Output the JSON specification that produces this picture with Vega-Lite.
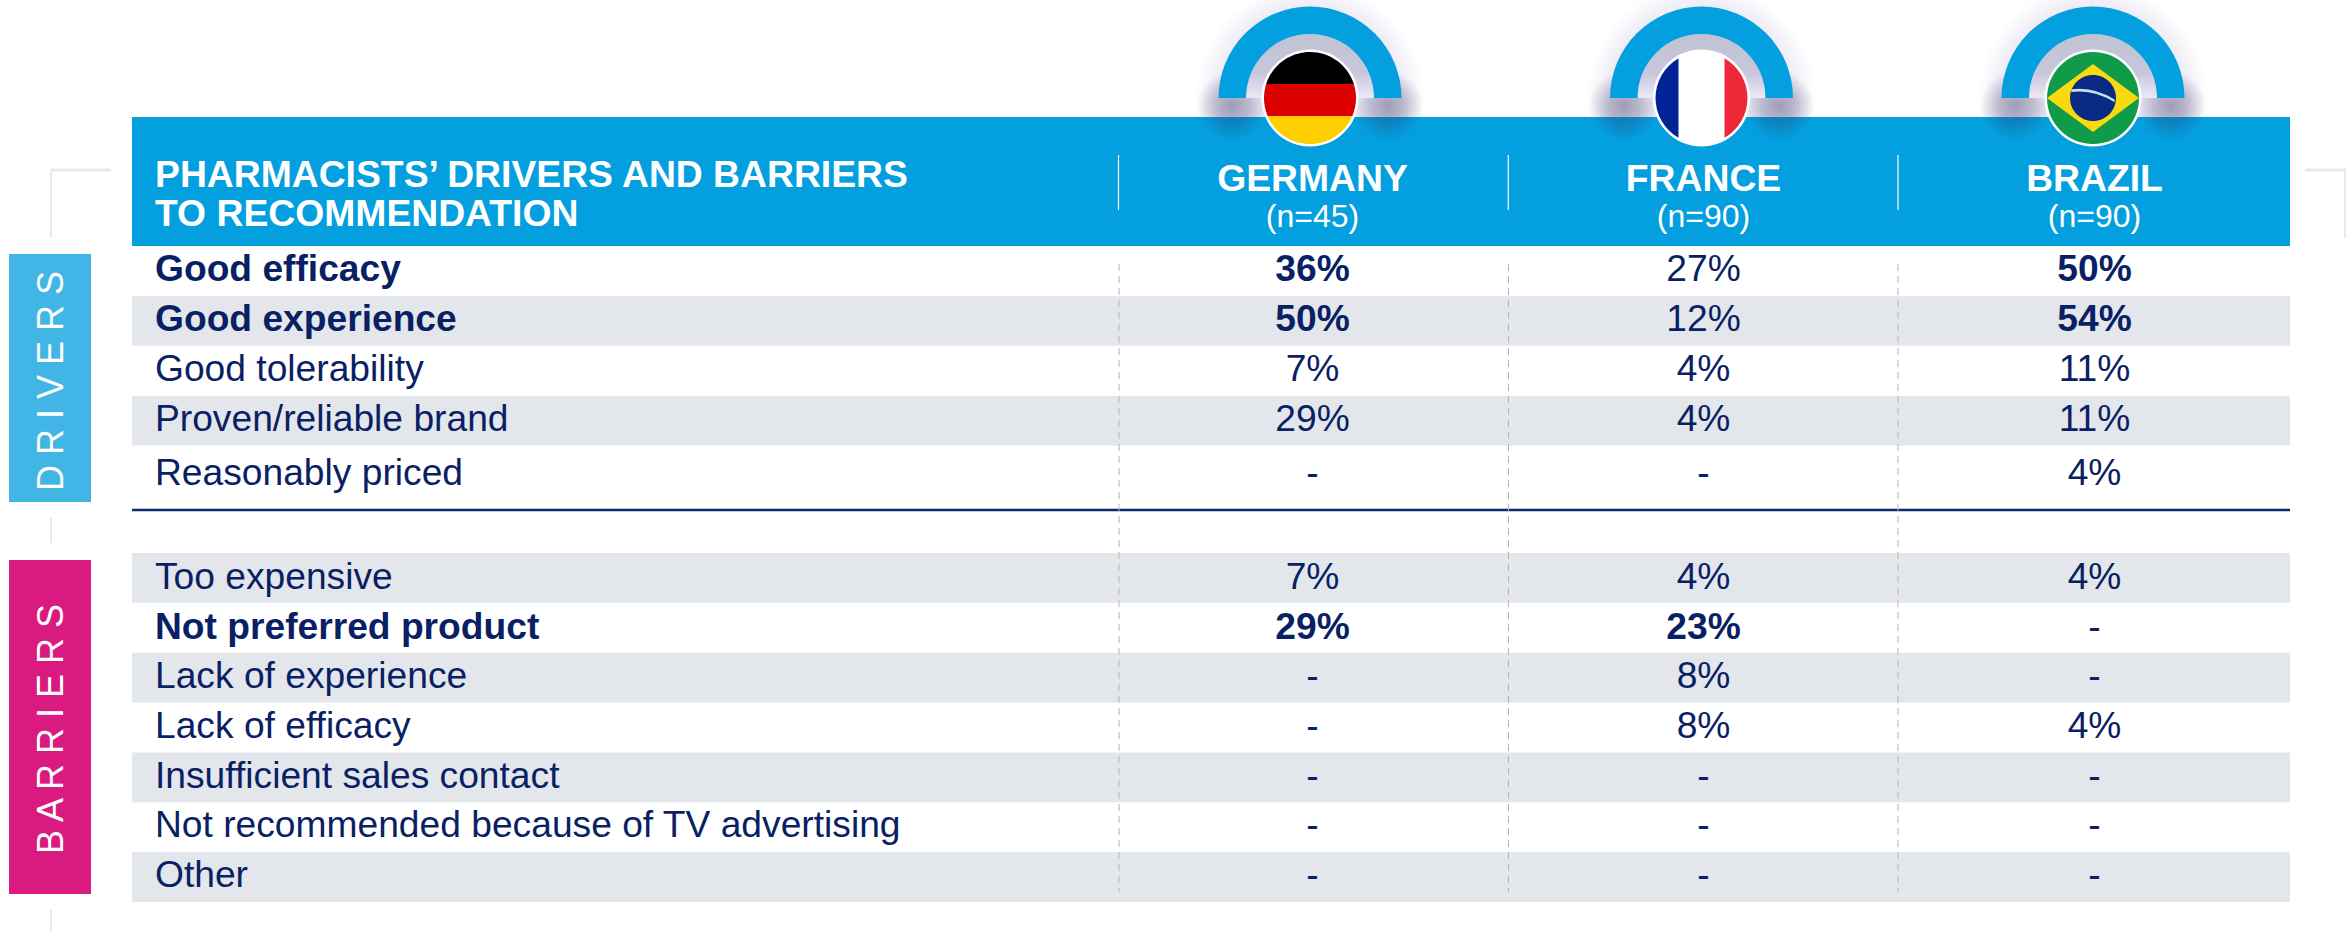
{"$schema":"https://vega.github.io/schema/vega-lite/v6.json","width":2346,"height":931,"padding":0,"autosize":{"type":"none"},"background":"#ffffff","config":{"view":{"stroke":null},"text":{"font":"Liberation Sans"}},
"datasets":{
"labels":[
{"section":"Drivers","measure":"Good efficacy","emphasised":true},
{"section":"Drivers","measure":"Good experience","emphasised":true},
{"section":"Drivers","measure":"Good tolerability","emphasised":false},
{"section":"Drivers","measure":"Proven/reliable brand","emphasised":false},
{"section":"Drivers","measure":"Reasonably priced","emphasised":false},
{"section":"Barriers","measure":"Too expensive","emphasised":false},
{"section":"Barriers","measure":"Not preferred product","emphasised":true},
{"section":"Barriers","measure":"Lack of experience","emphasised":false},
{"section":"Barriers","measure":"Lack of efficacy","emphasised":false},
{"section":"Barriers","measure":"Insufficient sales contact","emphasised":false},
{"section":"Barriers","measure":"Not recommended because of TV advertising","emphasised":false},
{"section":"Barriers","measure":"Other","emphasised":false}],
"cells":[
{"section":"Drivers","measure":"Good efficacy","country":"Germany","value":"36%","emphasised":true},
{"section":"Drivers","measure":"Good efficacy","country":"France","value":"27%","emphasised":false},
{"section":"Drivers","measure":"Good efficacy","country":"Brazil","value":"50%","emphasised":true},
{"section":"Drivers","measure":"Good experience","country":"Germany","value":"50%","emphasised":true},
{"section":"Drivers","measure":"Good experience","country":"France","value":"12%","emphasised":false},
{"section":"Drivers","measure":"Good experience","country":"Brazil","value":"54%","emphasised":true},
{"section":"Drivers","measure":"Good tolerability","country":"Germany","value":"7%","emphasised":false},
{"section":"Drivers","measure":"Good tolerability","country":"France","value":"4%","emphasised":false},
{"section":"Drivers","measure":"Good tolerability","country":"Brazil","value":"11%","emphasised":false},
{"section":"Drivers","measure":"Proven/reliable brand","country":"Germany","value":"29%","emphasised":false},
{"section":"Drivers","measure":"Proven/reliable brand","country":"France","value":"4%","emphasised":false},
{"section":"Drivers","measure":"Proven/reliable brand","country":"Brazil","value":"11%","emphasised":false},
{"section":"Drivers","measure":"Reasonably priced","country":"Germany","value":"-","emphasised":false},
{"section":"Drivers","measure":"Reasonably priced","country":"France","value":"-","emphasised":false},
{"section":"Drivers","measure":"Reasonably priced","country":"Brazil","value":"4%","emphasised":false},
{"section":"Barriers","measure":"Too expensive","country":"Germany","value":"7%","emphasised":false},
{"section":"Barriers","measure":"Too expensive","country":"France","value":"4%","emphasised":false},
{"section":"Barriers","measure":"Too expensive","country":"Brazil","value":"4%","emphasised":false},
{"section":"Barriers","measure":"Not preferred product","country":"Germany","value":"29%","emphasised":true},
{"section":"Barriers","measure":"Not preferred product","country":"France","value":"23%","emphasised":true},
{"section":"Barriers","measure":"Not preferred product","country":"Brazil","value":"-","emphasised":false},
{"section":"Barriers","measure":"Lack of experience","country":"Germany","value":"-","emphasised":false},
{"section":"Barriers","measure":"Lack of experience","country":"France","value":"8%","emphasised":false},
{"section":"Barriers","measure":"Lack of experience","country":"Brazil","value":"-","emphasised":false},
{"section":"Barriers","measure":"Lack of efficacy","country":"Germany","value":"-","emphasised":false},
{"section":"Barriers","measure":"Lack of efficacy","country":"France","value":"8%","emphasised":false},
{"section":"Barriers","measure":"Lack of efficacy","country":"Brazil","value":"4%","emphasised":false},
{"section":"Barriers","measure":"Insufficient sales contact","country":"Germany","value":"-","emphasised":false},
{"section":"Barriers","measure":"Insufficient sales contact","country":"France","value":"-","emphasised":false},
{"section":"Barriers","measure":"Insufficient sales contact","country":"Brazil","value":"-","emphasised":false},
{"section":"Barriers","measure":"Not recommended because of TV advertising","country":"Germany","value":"-","emphasised":false},
{"section":"Barriers","measure":"Not recommended because of TV advertising","country":"France","value":"-","emphasised":false},
{"section":"Barriers","measure":"Not recommended because of TV advertising","country":"Brazil","value":"-","emphasised":false},
{"section":"Barriers","measure":"Other","country":"Germany","value":"-","emphasised":false},
{"section":"Barriers","measure":"Other","country":"France","value":"-","emphasised":false},
{"section":"Barriers","measure":"Other","country":"Brazil","value":"-","emphasised":false}],
"columns":[{"country":"Germany","label":"GERMANY","n":"(n=45)"},{"country":"France","label":"FRANCE","n":"(n=90)"},{"country":"Brazil","label":"BRAZIL","n":"(n=90)"}],
"titleLines":[{"line":"PHARMACISTS’ DRIVERS AND BARRIERS"},{"line":"TO RECOMMENDATION"}],
"dividers":[{"after":"Measure"},{"after":"Germany"},{"after":"France"}],
"flagSides":[{"country":"Germany","side":"left"},{"country":"Germany","side":"right"},{"country":"France","side":"left"},{"country":"France","side":"right"},{"country":"Brazil","side":"left"},{"country":"Brazil","side":"right"}],
"flagParts":[
{"country":"Germany","part":"ring"},{"country":"Germany","part":"de-black"},{"country":"Germany","part":"de-red"},{"country":"Germany","part":"de-gold"},
{"country":"France","part":"ring"},{"country":"France","part":"fr-white"},{"country":"France","part":"fr-blue"},{"country":"France","part":"fr-red"},
{"country":"Brazil","part":"ring"},{"country":"Brazil","part":"br-green"},{"country":"Brazil","part":"br-yellow"},{"country":"Brazil","part":"br-blue"},{"country":"Brazil","part":"br-band"}]
},
"resolve":{"scale":{"x":"independent","y":"independent","color":"independent","shape":"independent","xOffset":"independent"}},
"layer":[
{"data":{"name":"columns"},"mark":{"type":"point","filled":true,"shape":"circle","size":52900,"opacity":1,"strokeWidth":0,"color":{"gradient":"radial","stops":[{"offset":0,"color":"rgba(110,90,170,0.13)"},{"offset":0.78,"color":"rgba(110,90,170,0.13)"},{"offset":1,"color":"rgba(110,90,170,0)"}]}},"encoding":{"x":{"field":"country","type":"nominal","sort":null,"scale":{"type":"point","padding":0,"domain":["Germany","France","Brazil"],"range":[1310,2093]},"axis":null},"y":{"datum":98,"type":"quantitative","scale":{"domain":[0,931],"range":[0,931]},"axis":null}}},
{"data":{"values":[{}]},"mark":{"type":"rect","color":"#039fdf"},"encoding":{"x":{"datum":132,"type":"quantitative","scale":{"domain":[0,2346],"range":[0,2346]},"axis":null},"x2":{"datum":2290},"y":{"datum":117,"type":"quantitative","scale":{"domain":[0,931],"range":[0,931]},"axis":null},"y2":{"datum":246}}},
{"data":{"name":"labels"},"transform":[{"filter":{"field":"measure","oneOf":["Good experience","Proven/reliable brand"]}}],"mark":{"type":"rect","color":"#e3e6eb"},"encoding":{"x":{"datum":132,"type":"quantitative","scale":{"domain":[0,2346],"range":[0,2346]},"axis":null},"x2":{"datum":2290},"y":{"field":"measure","type":"nominal","sort":null,"scale":{"type":"band","paddingInner":0,"paddingOuter":0,"domain":["Good efficacy","Good experience","Good tolerability","Proven/reliable brand","Reasonably priced"],"range":[246,495.5]},"axis":null}}},
{"data":{"name":"labels"},"transform":[{"filter":{"field":"measure","oneOf":["Too expensive","Lack of experience","Insufficient sales contact","Other"]}}],"mark":{"type":"rect","color":"#e3e6eb"},"encoding":{"x":{"datum":132,"type":"quantitative","scale":{"domain":[0,2346],"range":[0,2346]},"axis":null},"x2":{"datum":2290},"y":{"field":"measure","type":"nominal","sort":null,"scale":{"type":"band","paddingInner":0,"paddingOuter":0,"domain":["Too expensive","Not preferred product","Lack of experience","Lack of efficacy","Insufficient sales contact","Not recommended because of TV advertising","Other"],"range":[553,902]},"axis":null}}},
{"data":{"values":[{}]},"mark":{"type":"rule","color":"#0a2a6e","strokeWidth":2.7},"encoding":{"x":{"datum":132,"type":"quantitative","scale":{"domain":[0,2346],"range":[0,2346]},"axis":null},"x2":{"datum":2290},"y":{"datum":510,"type":"quantitative","scale":{"domain":[0,931],"range":[0,931]},"axis":null}}},
{"data":{"name":"dividers"},"mark":{"type":"rule","color":"#b4b4b4","strokeWidth":1,"strokeDash":[7,5]},"encoding":{"x":{"field":"after","type":"nominal","sort":null,"scale":{"type":"point","padding":0,"domain":["Measure","Germany","France"],"range":[1119,1898]},"axis":null},"y":{"datum":264,"type":"quantitative","scale":{"domain":[0,931],"range":[0,931]},"axis":null},"y2":{"datum":892}}},
{"data":{"name":"dividers"},"mark":{"type":"rule","color":"#ffffff","strokeWidth":1.2},"encoding":{"x":{"field":"after","type":"nominal","sort":null,"scale":{"type":"point","padding":0,"domain":["Measure","Germany","France"],"range":[1118.5,1898]},"axis":null},"y":{"datum":155,"type":"quantitative","scale":{"domain":[0,931],"range":[0,931]},"axis":null},"y2":{"datum":210}}},
{"data":{"name":"flagSides"},"mark":{"type":"point","filled":true,"shape":"circle","size":4900,"opacity":1,"strokeWidth":0,"color":{"gradient":"radial","stops":[{"offset":0,"color":"rgba(50,50,100,0.42)"},{"offset":0.5,"color":"rgba(50,50,100,0.26)"},{"offset":1,"color":"rgba(50,50,100,0)"}]}},"encoding":{"x":{"field":"country","type":"nominal","sort":null,"scale":{"type":"point","padding":0,"domain":["Germany","France","Brazil"],"range":[1310,2093]},"axis":null},"xOffset":{"field":"side","type":"nominal","sort":null,"scale":{"type":"point","padding":0,"domain":["left","right"],"range":[-78,78]}},"y":{"datum":106,"type":"quantitative","scale":{"domain":[0,931],"range":[0,931]},"axis":null}}},
{"data":{"name":"columns"},"mark":{"type":"arc","theta":-1.5708,"theta2":1.5708,"radius":64,"radius2":0,"color":{"gradient":"linear","x1":0,"y1":0,"x2":0,"y2":1,"stops":[{"offset":0,"color":"#bfc3d2"},{"offset":0.6,"color":"#c8c6dc"},{"offset":1,"color":"#ebe9f5"}]}},"encoding":{"x":{"field":"country","type":"nominal","sort":null,"scale":{"type":"point","padding":0,"domain":["Germany","France","Brazil"],"range":[1310,2093]},"axis":null},"y":{"datum":98,"type":"quantitative","scale":{"domain":[0,931],"range":[0,931]},"axis":null}}},
{"data":{"name":"columns"},"mark":{"type":"arc","theta":-1.5708,"theta2":1.5708,"radius":91.5,"radius2":64,"color":"#039fdf"},"encoding":{"x":{"field":"country","type":"nominal","sort":null,"scale":{"type":"point","padding":0,"domain":["Germany","France","Brazil"],"range":[1310,2093]},"axis":null},"y":{"datum":98,"type":"quantitative","scale":{"domain":[0,931],"range":[0,931]},"axis":null}}},
{"data":{"name":"flagParts"},"mark":{"type":"point","filled":true,"size":8464,"opacity":1,"strokeWidth":0},"encoding":{"x":{"field":"country","type":"nominal","sort":null,"scale":{"type":"point","padding":0,"domain":["Germany","France","Brazil"],"range":[1310,2093]},"axis":null},"y":{"datum":98,"type":"quantitative","scale":{"domain":[0,931],"range":[0,931]},"axis":null},
"shape":{"field":"part","type":"nominal","legend":null,"scale":{"domain":["ring","de-black","de-red","de-gold","fr-white","fr-blue","fr-red","br-green","br-yellow","br-blue","br-band"],"range":[
"M-1.055,0A1.055,1.055 0 1,1 1.055,0A1.055,1.055 0 1,1 -1.055,0Z",
"M-0.953,-0.304A1,1 0 0,1 0.953,-0.304Z",
"M-0.953,-0.304L0.953,-0.304A1,1 0 0,1 0.921,0.39L-0.921,0.39A1,1 0 0,1 -0.953,-0.304Z",
"M-0.921,0.39L0.921,0.39A1,1 0 0,1 -0.921,0.39Z",
"M-1,0A1,1 0 1,1 1,0A1,1 0 1,1 -1,0Z",
"M-0.5,-0.866A1,1 0 0,0 -0.5,0.866Z",
"M0.5,-0.866A1,1 0 0,1 0.5,0.866Z",
"M-1,0A1,1 0 1,1 1,0A1,1 0 1,1 -1,0Z",
"M-1,0L0,-0.74L1,0L0,0.74Z",
"M-0.5,0A0.5,0.5 0 1,1 0.5,0A0.5,0.5 0 1,1 -0.5,0Z",
"M-0.47,-0.19Q0,-0.26 0.47,0.03L0.47,0.09Q0,-0.2 -0.47,-0.13Z"]}},
"color":{"field":"part","type":"nominal","legend":null,"scale":{"domain":["ring","de-black","de-red","de-gold","fr-white","fr-blue","fr-red","br-green","br-yellow","br-blue","br-band"],"range":["#ffffff","#000000","#dd0000","#ffce00","#ffffff","#002395","#ed2939","#0f9b48","#f9d90f","#0a2a86","#c5e2ea"]}}}},
{"data":{"name":"titleLines"},"mark":{"type":"text","align":"left","baseline":"middle","fontSize":37.3,"fontWeight":"bold","color":"#ffffff"},"encoding":{"x":{"datum":155,"type":"quantitative","scale":{"domain":[0,2346],"range":[0,2346]},"axis":null},"y":{"field":"line","type":"nominal","sort":null,"scale":{"type":"point","padding":0,"domain":["PHARMACISTS’ DRIVERS AND BARRIERS","TO RECOMMENDATION"],"range":[175.5,215]},"axis":null},"text":{"field":"line"}}},
{"data":{"name":"columns"},"mark":{"type":"text","align":"center","baseline":"middle","fontSize":37.3,"fontWeight":"bold","color":"#ffffff"},"encoding":{"x":{"field":"country","type":"nominal","sort":null,"scale":{"type":"band","paddingInner":0,"paddingOuter":0,"domain":["Germany","France","Brazil"],"range":[1117,2290]},"axis":null},"y":{"datum":180,"type":"quantitative","scale":{"domain":[0,931],"range":[0,931]},"axis":null},"text":{"field":"label"}}},
{"data":{"name":"columns"},"mark":{"type":"text","align":"center","baseline":"middle","fontSize":32,"color":"#ffffff"},"encoding":{"x":{"field":"country","type":"nominal","sort":null,"scale":{"type":"band","paddingInner":0,"paddingOuter":0,"domain":["Germany","France","Brazil"],"range":[1117,2290]},"axis":null},"y":{"datum":217,"type":"quantitative","scale":{"domain":[0,931],"range":[0,931]},"axis":null},"text":{"field":"n"}}},
{"data":{"name":"labels"},"transform":[{"filter":"datum.section==='Drivers' && datum.measure!=='Reasonably priced' && !datum.emphasised"}],"mark":{"type":"text","align":"left","baseline":"middle","fontSize":37.2,"color":"#0a1f64"},"encoding":{"x":{"datum":155,"type":"quantitative","scale":{"domain":[0,2346],"range":[0,2346]},"axis":null},"y":{"field":"measure","type":"nominal","sort":null,"scale":{"type":"band","paddingInner":0,"paddingOuter":0,"domain":["Good efficacy","Good experience","Good tolerability","Proven/reliable brand"],"range":[245,445]},"axis":null},"text":{"field":"measure"}}},
{"data":{"name":"labels"},"transform":[{"filter":"datum.section==='Drivers' && datum.emphasised"}],"mark":{"type":"text","align":"left","baseline":"middle","fontSize":37.2,"fontWeight":"bold","color":"#0a1f64"},"encoding":{"x":{"datum":155,"type":"quantitative","scale":{"domain":[0,2346],"range":[0,2346]},"axis":null},"y":{"field":"measure","type":"nominal","sort":null,"scale":{"type":"band","paddingInner":0,"paddingOuter":0,"domain":["Good efficacy","Good experience","Good tolerability","Proven/reliable brand"],"range":[245,445]},"axis":null},"text":{"field":"measure"}}},
{"data":{"name":"labels"},"transform":[{"filter":"datum.measure==='Reasonably priced'"}],"mark":{"type":"text","align":"left","baseline":"middle","fontSize":37.2,"color":"#0a1f64"},"encoding":{"x":{"datum":155,"type":"quantitative","scale":{"domain":[0,2346],"range":[0,2346]},"axis":null},"y":{"field":"measure","type":"nominal","sort":null,"scale":{"type":"band","paddingInner":0,"paddingOuter":0,"domain":["Reasonably priced"],"range":[449,499]},"axis":null},"text":{"field":"measure"}}},
{"data":{"name":"labels"},"transform":[{"filter":"datum.section==='Barriers' && !datum.emphasised"}],"mark":{"type":"text","align":"left","baseline":"middle","fontSize":37.2,"color":"#0a1f64"},"encoding":{"x":{"datum":155,"type":"quantitative","scale":{"domain":[0,2346],"range":[0,2346]},"axis":null},"y":{"field":"measure","type":"nominal","sort":null,"scale":{"type":"band","paddingInner":0,"paddingOuter":0,"domain":["Too expensive","Not preferred product","Lack of experience","Lack of efficacy","Insufficient sales contact","Not recommended because of TV advertising","Other"],"range":[553,901]},"axis":null},"text":{"field":"measure"}}},
{"data":{"name":"labels"},"transform":[{"filter":"datum.section==='Barriers' && datum.emphasised"}],"mark":{"type":"text","align":"left","baseline":"middle","fontSize":37.2,"fontWeight":"bold","color":"#0a1f64"},"encoding":{"x":{"datum":155,"type":"quantitative","scale":{"domain":[0,2346],"range":[0,2346]},"axis":null},"y":{"field":"measure","type":"nominal","sort":null,"scale":{"type":"band","paddingInner":0,"paddingOuter":0,"domain":["Too expensive","Not preferred product","Lack of experience","Lack of efficacy","Insufficient sales contact","Not recommended because of TV advertising","Other"],"range":[553,901]},"axis":null},"text":{"field":"measure"}}},
{"data":{"name":"cells"},"transform":[{"filter":"datum.section==='Drivers' && datum.measure!=='Reasonably priced' && !datum.emphasised"}],"mark":{"type":"text","align":"center","baseline":"middle","fontSize":37.2,"color":"#0a1f64"},"encoding":{"x":{"field":"country","type":"nominal","sort":null,"scale":{"type":"band","paddingInner":0,"paddingOuter":0,"domain":["Germany","France","Brazil"],"range":[1117,2290]},"axis":null},"y":{"field":"measure","type":"nominal","sort":null,"scale":{"type":"band","paddingInner":0,"paddingOuter":0,"domain":["Good efficacy","Good experience","Good tolerability","Proven/reliable brand"],"range":[245,445]},"axis":null},"text":{"field":"value"}}},
{"data":{"name":"cells"},"transform":[{"filter":"datum.section==='Drivers' && datum.emphasised"}],"mark":{"type":"text","align":"center","baseline":"middle","fontSize":37.2,"fontWeight":"bold","color":"#0a1f64"},"encoding":{"x":{"field":"country","type":"nominal","sort":null,"scale":{"type":"band","paddingInner":0,"paddingOuter":0,"domain":["Germany","France","Brazil"],"range":[1117,2290]},"axis":null},"y":{"field":"measure","type":"nominal","sort":null,"scale":{"type":"band","paddingInner":0,"paddingOuter":0,"domain":["Good efficacy","Good experience","Good tolerability","Proven/reliable brand"],"range":[245,445]},"axis":null},"text":{"field":"value"}}},
{"data":{"name":"cells"},"transform":[{"filter":"datum.measure==='Reasonably priced'"}],"mark":{"type":"text","align":"center","baseline":"middle","fontSize":37.2,"color":"#0a1f64"},"encoding":{"x":{"field":"country","type":"nominal","sort":null,"scale":{"type":"band","paddingInner":0,"paddingOuter":0,"domain":["Germany","France","Brazil"],"range":[1117,2290]},"axis":null},"y":{"field":"measure","type":"nominal","sort":null,"scale":{"type":"band","paddingInner":0,"paddingOuter":0,"domain":["Reasonably priced"],"range":[449,499]},"axis":null},"text":{"field":"value"}}},
{"data":{"name":"cells"},"transform":[{"filter":"datum.section==='Barriers' && !datum.emphasised"}],"mark":{"type":"text","align":"center","baseline":"middle","fontSize":37.2,"color":"#0a1f64"},"encoding":{"x":{"field":"country","type":"nominal","sort":null,"scale":{"type":"band","paddingInner":0,"paddingOuter":0,"domain":["Germany","France","Brazil"],"range":[1117,2290]},"axis":null},"y":{"field":"measure","type":"nominal","sort":null,"scale":{"type":"band","paddingInner":0,"paddingOuter":0,"domain":["Too expensive","Not preferred product","Lack of experience","Lack of efficacy","Insufficient sales contact","Not recommended because of TV advertising","Other"],"range":[553,901]},"axis":null},"text":{"field":"value"}}},
{"data":{"name":"cells"},"transform":[{"filter":"datum.section==='Barriers' && datum.emphasised"}],"mark":{"type":"text","align":"center","baseline":"middle","fontSize":37.2,"fontWeight":"bold","color":"#0a1f64"},"encoding":{"x":{"field":"country","type":"nominal","sort":null,"scale":{"type":"band","paddingInner":0,"paddingOuter":0,"domain":["Germany","France","Brazil"],"range":[1117,2290]},"axis":null},"y":{"field":"measure","type":"nominal","sort":null,"scale":{"type":"band","paddingInner":0,"paddingOuter":0,"domain":["Too expensive","Not preferred product","Lack of experience","Lack of efficacy","Insufficient sales contact","Not recommended because of TV advertising","Other"],"range":[553,901]},"axis":null},"text":{"field":"value"}}},
{"data":{"values":[{"tag":"D R I V E R S"}]},"layer":[
{"mark":{"type":"rect","color":"#41b6e6"},"encoding":{"x":{"datum":9,"type":"quantitative","scale":{"domain":[0,2346],"range":[0,2346]},"axis":null},"x2":{"datum":91},"y":{"datum":254,"type":"quantitative","scale":{"domain":[0,931],"range":[0,931]},"axis":null},"y2":{"datum":502}}},
{"mark":{"type":"text","angle":270,"align":"center","baseline":"middle","fontSize":36,"color":"#ffffff"},"encoding":{"x":{"datum":52,"type":"quantitative","scale":{"domain":[0,2346],"range":[0,2346]},"axis":null},"y":{"datum":381,"type":"quantitative","scale":{"domain":[0,931],"range":[0,931]},"axis":null},"text":{"field":"tag"}}}]},
{"data":{"values":[{"tag":"B A R R I E R S"}]},"layer":[
{"mark":{"type":"rect","color":"#d91a80"},"encoding":{"x":{"datum":9,"type":"quantitative","scale":{"domain":[0,2346],"range":[0,2346]},"axis":null},"x2":{"datum":91},"y":{"datum":560,"type":"quantitative","scale":{"domain":[0,931],"range":[0,931]},"axis":null},"y2":{"datum":894}}},
{"mark":{"type":"text","angle":270,"align":"center","baseline":"middle","fontSize":36,"color":"#ffffff"},"encoding":{"x":{"datum":52,"type":"quantitative","scale":{"domain":[0,2346],"range":[0,2346]},"axis":null},"y":{"datum":729,"type":"quantitative","scale":{"domain":[0,931],"range":[0,931]},"axis":null},"text":{"field":"tag"}}}]},
{"data":{"values":[{}]},"mark":{"type":"rule","color":"#e6e9ee","strokeWidth":3},"encoding":{"x":{"datum":51,"type":"quantitative","scale":{"domain":[0,2346],"range":[0,2346]},"axis":null},"x2":{"datum":111},"y":{"datum":170,"type":"quantitative","scale":{"domain":[0,931],"range":[0,931]},"axis":null}}},
{"data":{"values":[{}]},"mark":{"type":"rule","color":"#e6e9ee","strokeWidth":3},"encoding":{"x":{"datum":2305,"type":"quantitative","scale":{"domain":[0,2346],"range":[0,2346]},"axis":null},"x2":{"datum":2346},"y":{"datum":170,"type":"quantitative","scale":{"domain":[0,931],"range":[0,931]},"axis":null}}},
{"data":{"values":[{}]},"mark":{"type":"rule","color":"#e6e9ee","strokeWidth":2},"encoding":{"x":{"datum":51,"type":"quantitative","scale":{"domain":[0,2346],"range":[0,2346]},"axis":null},"y":{"datum":170,"type":"quantitative","scale":{"domain":[0,931],"range":[0,931]},"axis":null},"y2":{"datum":238}}},
{"data":{"values":[{}]},"mark":{"type":"rule","color":"#e6e9ee","strokeWidth":2},"encoding":{"x":{"datum":51,"type":"quantitative","scale":{"domain":[0,2346],"range":[0,2346]},"axis":null},"y":{"datum":518,"type":"quantitative","scale":{"domain":[0,931],"range":[0,931]},"axis":null},"y2":{"datum":543}}},
{"data":{"values":[{}]},"mark":{"type":"rule","color":"#e6e9ee","strokeWidth":2},"encoding":{"x":{"datum":51,"type":"quantitative","scale":{"domain":[0,2346],"range":[0,2346]},"axis":null},"y":{"datum":910,"type":"quantitative","scale":{"domain":[0,931],"range":[0,931]},"axis":null},"y2":{"datum":931}}},
{"data":{"values":[{}]},"mark":{"type":"rule","color":"#e6e9ee","strokeWidth":2},"encoding":{"x":{"datum":2345,"type":"quantitative","scale":{"domain":[0,2346],"range":[0,2346]},"axis":null},"y":{"datum":170,"type":"quantitative","scale":{"domain":[0,931],"range":[0,931]},"axis":null},"y2":{"datum":238}}}
]}
